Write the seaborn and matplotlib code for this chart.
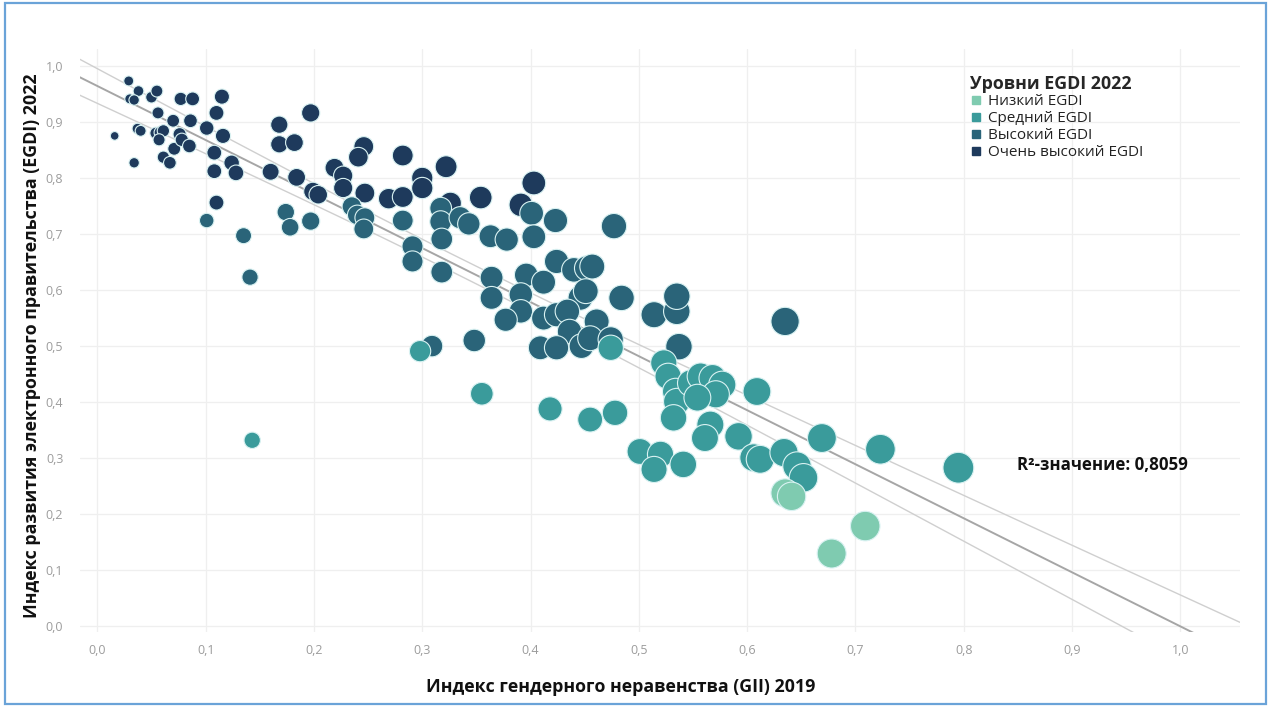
import numpy as np
import pandas as pd
import matplotlib
matplotlib.use("Agg")
import matplotlib.pyplot as plt
from matplotlib.colors import PowerNorm
from matplotlib.lines import Line2D
from matplotlib.patches import Rectangle
from matplotlib.ticker import FuncFormatter
import seaborn as sns

# ---------------- data ----------------
LEVELS = ["Низкий EGDI", "Средний EGDI", "Высокий EGDI", "Очень высокий EGDI"]
COLORS = ["#7fcbb0", "#3a9b9b", "#2a6479", "#1e3a5c"]

very_high_gii = [0.016, 0.029, 0.038, 0.030, 0.034, 0.050, 0.055, 0.034, 0.037, 0.040,
                 0.056, 0.054, 0.058, 0.061, 0.057, 0.061, 0.067, 0.071, 0.070, 0.076,
                 0.078, 0.077, 0.088, 0.086, 0.085, 0.101, 0.110, 0.115, 0.116, 0.108,
                 0.108, 0.124, 0.128, 0.110, 0.160, 0.168, 0.168, 0.182, 0.184, 0.197,
                 0.199, 0.204, 0.219, 0.227, 0.227, 0.246, 0.241, 0.247, 0.269, 0.282,
                 0.282, 0.300, 0.300, 0.322, 0.326, 0.354, 0.391, 0.403]
very_high_egdi = [0.875, 0.973, 0.955, 0.941, 0.939, 0.944, 0.955, 0.827, 0.888, 0.884,
                  0.916, 0.880, 0.881, 0.884, 0.868, 0.837, 0.827, 0.852, 0.902, 0.878,
                  0.868, 0.941, 0.941, 0.902, 0.857, 0.889, 0.916, 0.945, 0.875, 0.845,
                  0.812, 0.827, 0.809, 0.756, 0.811, 0.895, 0.860, 0.863, 0.801, 0.916,
                  0.776, 0.770, 0.818, 0.804, 0.782, 0.856, 0.837, 0.773, 0.763, 0.766,
                  0.840, 0.800, 0.782, 0.820, 0.755, 0.765, 0.752, 0.791]

high_gii = [0.101, 0.135, 0.141, 0.174, 0.178, 0.197, 0.235, 0.240, 0.247, 0.246,
            0.282, 0.291, 0.291, 0.317, 0.317, 0.318, 0.335, 0.343, 0.363, 0.378,
            0.401, 0.403, 0.423, 0.477, 0.318, 0.364, 0.364, 0.396, 0.412, 0.424,
            0.440, 0.452, 0.457, 0.446, 0.451, 0.391, 0.391, 0.377, 0.412, 0.424,
            0.434, 0.436, 0.461, 0.484, 0.409, 0.424, 0.447, 0.455, 0.474, 0.309,
            0.348, 0.514, 0.535, 0.535, 0.537, 0.635]
high_egdi = [0.724, 0.697, 0.623, 0.739, 0.712, 0.723, 0.749, 0.734, 0.729, 0.709,
             0.724, 0.678, 0.651, 0.746, 0.722, 0.691, 0.729, 0.718, 0.696, 0.690,
             0.737, 0.695, 0.724, 0.714, 0.632, 0.622, 0.586, 0.627, 0.614, 0.651,
             0.636, 0.639, 0.642, 0.586, 0.598, 0.592, 0.562, 0.547, 0.550, 0.556,
             0.562, 0.526, 0.544, 0.586, 0.497, 0.497, 0.500, 0.514, 0.512, 0.500,
             0.510, 0.556, 0.562, 0.589, 0.499, 0.544]

middle_gii = [0.143, 0.298, 0.355, 0.474, 0.418, 0.455, 0.478, 0.523, 0.527, 0.534,
              0.535, 0.548, 0.557, 0.568, 0.577, 0.571, 0.554, 0.609, 0.532, 0.566,
              0.561, 0.592, 0.501, 0.520, 0.514, 0.541, 0.606, 0.612, 0.634, 0.646,
              0.652, 0.669, 0.723, 0.795]
middle_egdi = [0.332, 0.491, 0.415, 0.497, 0.388, 0.369, 0.381, 0.470, 0.446, 0.419,
               0.401, 0.434, 0.446, 0.443, 0.431, 0.414, 0.408, 0.419, 0.372, 0.360,
               0.336, 0.339, 0.312, 0.307, 0.280, 0.289, 0.301, 0.298, 0.310, 0.286,
               0.265, 0.336, 0.316, 0.283]

low_gii = [0.635, 0.641, 0.709, 0.678]
low_egdi = [0.238, 0.232, 0.179, 0.130]

# trend line (Tableau linear trend)
TREND_INTERCEPT = 0.964
TREND_SLOPE = -0.964

X_TICKS = [0.0, 0.1, 0.2, 0.3, 0.4, 0.5, 0.6, 0.7, 0.8, 0.9, 1.0]
Y_TICKS = [0.0, 0.1, 0.2, 0.3, 0.4, 0.5, 0.6, 0.7, 0.8, 0.9, 1.0]
R2_TEXT = "R²-значение: 0,8059"

# drawing order: very high first, low on top
frames = []
for lvl, gx, gy in [(LEVELS[3], very_high_gii, very_high_egdi),
                    (LEVELS[2], high_gii, high_egdi),
                    (LEVELS[1], middle_gii, middle_egdi),
                    (LEVELS[0], low_gii, low_egdi)]:
    frames.append(pd.DataFrame({"gii": gx, "egdi": gy, "level": lvl}))
df = pd.concat(frames, ignore_index=True)

# ---------------- style ----------------
sns.set_style("white")
plt.rcParams["font.family"] = ["Open Sans", "DejaVu Sans"]

W, H = 1271, 707
fig = plt.figure(figsize=(W / 100, H / 100), dpi=100)
ax = fig.add_axes([80 / W, 1 - 632 / H, 1160 / W, 583 / H])

palette = dict(zip(LEVELS, COLORS))
sns.scatterplot(data=df, x="gii", y="egdi", hue="level", hue_order=LEVELS,
                palette=palette, size="gii", sizes=(18, 495),
                size_norm=PowerNorm(gamma=0.8, vmin=0.0, vmax=0.8),
                edgecolor=(0.85, 0.95, 0.95, 0.7), linewidth=0.8, alpha=1.0,
                legend=False, ax=ax, zorder=3)

# trend line with 95% confidence bands for the mean
xv = df["gii"].to_numpy()
yv = df["egdi"].to_numpy()
n = len(xv)
resid = yv - (TREND_INTERCEPT + TREND_SLOPE * xv)
s = np.sqrt(np.sum(resid ** 2) / (n - 2))
xm = xv.mean()
sxx = np.sum((xv - xm) ** 2)
xl = np.linspace(-0.03, 1.08, 300)
yl = TREND_INTERCEPT + TREND_SLOPE * xl
se = s * np.sqrt(1.0 / n + (xl - xm) ** 2 / sxx)
ax.plot(xl, yl, color="#a6a6a6", lw=1.4, zorder=2)
ax.plot(xl, yl + 1.976 * se, color="#cfcfcf", lw=1.0, zorder=2)
ax.plot(xl, yl - 1.976 * se, color="#cfcfcf", lw=1.0, zorder=2)

ax.set_xlim(-0.016, 1.055)
ax.set_ylim(-0.01, 1.03)
ax.set_xticks(X_TICKS)
ax.set_yticks(Y_TICKS)
fmt = FuncFormatter(lambda v, p: f"{v:.1f}".replace(".", ","))
ax.xaxis.set_major_formatter(fmt)
ax.yaxis.set_major_formatter(fmt)
ax.tick_params(axis="both", length=0, labelsize=9, labelcolor="#9c9c9c")
ax.tick_params(axis="x", pad=9)
ax.tick_params(axis="y", pad=12)
ax.grid(True, color="#efefef", lw=0.9, zorder=0)
for sp in ax.spines.values():
    sp.set_visible(False)
ax.set_xlabel("")
ax.set_ylabel("")

fig.text(621 / W, 1 - 687 / H, "Индекс гендерного неравенства (GII) 2019",
         ha="center", va="center", fontsize=12.8, fontweight="bold", color="#111111")
fig.text(32 / W, 1 - 346 / H, "Индекс развития электронного правительства (EGDI) 2022",
         ha="center", va="center", rotation=90, fontsize=12.8, fontweight="bold",
         color="#111111")

# legend
handles = [Line2D([], [], marker="s", linestyle="", color=c, markersize=6)
           for c in COLORS]
leg = ax.legend(handles, LEVELS, title="Уровни EGDI 2022", loc="upper left",
                bbox_to_anchor=(962 / W, 1 - 67 / H), bbox_transform=fig.transFigure,
                frameon=False, fontsize=11, title_fontsize=12.8,
                handletextpad=0.4, labelspacing=0.12, borderpad=0, handlelength=0.8,
                alignment="left")
leg.get_title().set_fontweight("bold")
for t in leg.get_texts():
    t.set_color("#222222")

fig.text(1017 / W, 1 - 465 / H, R2_TEXT, ha="left", va="center",
         fontsize=12.2, fontweight="bold", color="#111111")

# outer blue frame
fig.patches.append(Rectangle((5 / W, 3 / H), 1261 / W, 701 / H, transform=fig.transFigure,
                             fill=False, edgecolor="#6aa3d8", lw=1.6, zorder=10))

fig.savefig("out.png", dpi=100)
